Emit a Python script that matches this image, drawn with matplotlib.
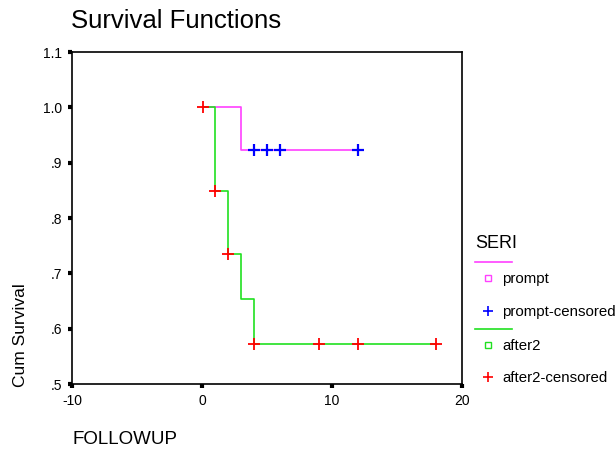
import matplotlib
matplotlib.use("Agg")
import matplotlib.pyplot as plt
from matplotlib.lines import Line2D

plt.rcParams['font.family'] = ['Liberation Sans', 'DejaVu Sans']
plt.rcParams['axes.unicode_minus'] = False

# prompt group: step times and survival levels
prompt_t = [0.1, 3, 12]
prompt_s = [1.0, 0.923, 0.923]
prompt_cens_t = [4, 5, 6, 12]
prompt_cens_s = [0.923, 0.923, 0.923, 0.923]

# after2 group
after2_t = [0.1, 1, 2, 3, 4, 18]
after2_s = [1.0, 0.849, 0.735, 0.654, 0.572, 0.572]
after2_cens_t = [0.1, 1, 2, 4, 9, 12, 18]
after2_cens_s = [1.0, 0.849, 0.735, 0.572, 0.572, 0.572, 0.572]

yticks = [0.5, 0.6, 0.7, 0.8, 0.9, 1.0, 1.1]
ylabels = ['.5', '.6', '.7', '.8', '.9', '1.0', '1.1']
xticks = [-10, 0, 10, 20]

pink = '#ff40ff'
green = '#20e020'

W, H = 616, 449
fig = plt.figure(figsize=(W / 100, H / 100), dpi=100)
ax = fig.add_axes([72 / W, 1 - 384 / H, 390 / W, 332 / H])

ax.step(prompt_t, prompt_s, where='post', color=pink, lw=1.2)
ax.step(after2_t, after2_s, where='post', color=green, lw=1.2)
ax.plot(prompt_cens_t, prompt_cens_s, '+', color='#0000ff', ms=9, mew=1.6)
ax.plot(after2_cens_t, after2_cens_s, '+', color='#ff0000', ms=9, mew=1.3)

ax.set_xlim(-10, 20)
ax.set_ylim(0.5, 1.1)
ax.set_xticks(xticks)
ax.set_yticks(yticks)
ax.set_yticklabels(ylabels)
ax.tick_params(direction='out', length=3, width=3, labelsize=10, pad=4)
for s in ax.spines.values():
    s.set_linewidth(1.2)

fig.text(71 / W, 1 - 21 / H, 'Survival Functions', fontsize=18.5, va='center', ha='left')
fig.text(21 / W, 1 - 335 / H, 'Cum Survival', fontsize=12.5, rotation=90, va='center', ha='center')
fig.text(72 / W, 1 - 440 / H, 'FOLLOWUP', fontsize=13.5, va='center', ha='left')

# legend drawn by hand, SPSS style
def fx(px):
    return px / W

def fy(py):
    return 1 - py / H

fig.text(fx(475), fy(243), 'SERI', fontsize=13, va='center', ha='left')
fig.add_artist(Line2D([fx(475), fx(512)], [fy(262), fy(262)], color=pink, lw=1.2))
fig.add_artist(Line2D([fx(488)], [fy(278)], marker='s', ms=4, mfc='none', mec=pink, mew=1, ls=''))
fig.text(fx(502), fy(279), 'prompt', fontsize=10.8, va='center', ha='left')
fig.add_artist(Line2D([fx(488)], [fy(311)], marker='+', ms=7, color='#0000ff', mew=1.2, ls=''))
fig.text(fx(502), fy(312), 'prompt-censored', fontsize=10.8, va='center', ha='left')
fig.add_artist(Line2D([fx(475), fx(512)], [fy(329), fy(329)], color=green, lw=1.2))
fig.add_artist(Line2D([fx(488)], [fy(345)], marker='s', ms=4, mfc='none', mec=green, mew=1, ls=''))
fig.text(fx(502), fy(346), 'after2', fontsize=10.8, va='center', ha='left')
fig.add_artist(Line2D([fx(488)], [fy(377)], marker='+', ms=7, color='#ff0000', mew=1.2, ls=''))
fig.text(fx(502), fy(378), 'after2-censored', fontsize=10.8, va='center', ha='left')

fig.savefig('out.png', dpi=100)
